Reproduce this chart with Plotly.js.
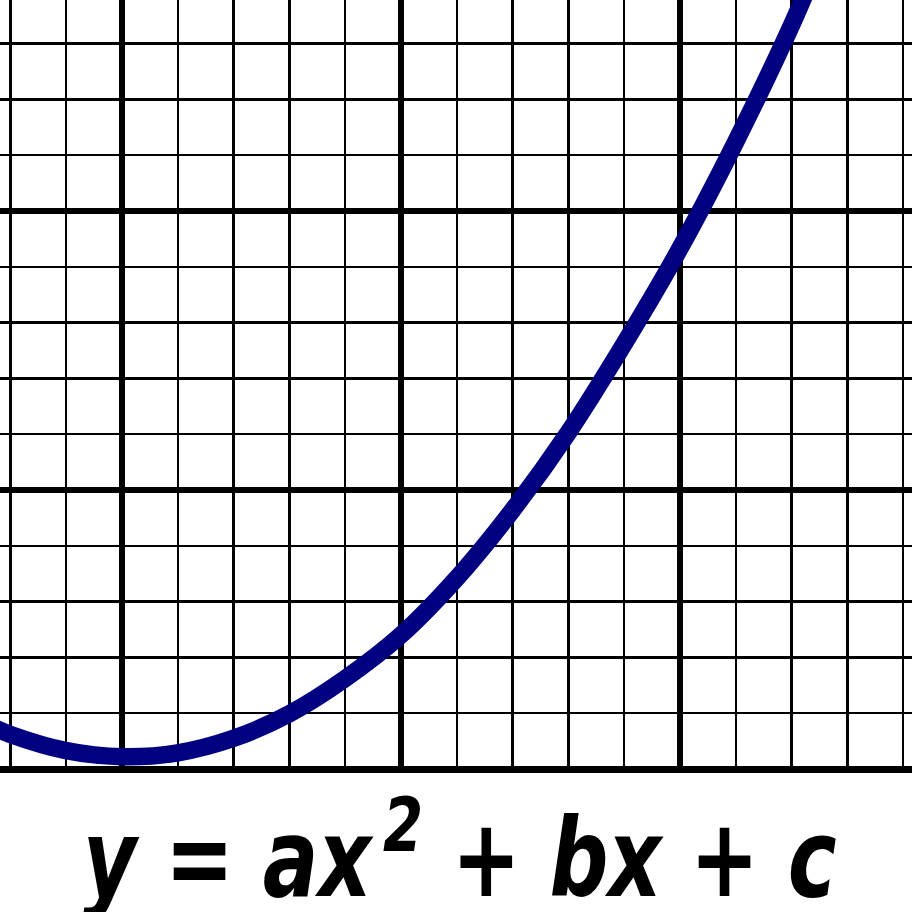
<!DOCTYPE html>
<html>
<head>
<meta charset="utf-8">
<script src="https://cdn.plot.ly/plotly-3.0.1.min.js"></script>
<style>
  html, body { margin: 0; padding: 0; background: #ffffff; }
  #chart { width: 912px; height: 912px; }
</style>
</head>
<body>
<div id="chart"></div>
<script>
// Curve samples, in grid units (1 unit = one small square)
const curveX = [-7.4, -7, -6, -5, -4, -3, -2, -1, 0, 1, 2, 3, 4, 5, 6, 7, 7.5];
const curveY = [0.79, 0.62, 0.33, 0.22, 0.29, 0.55, 0.99, 1.62, 2.40, 3.42, 4.64, 6.03, 7.62, 9.33, 11.24, 13.33, 14.5];

// Visible window of the grid paper, in grid units
const xRange = [-7.186, 9.158];
const yRange = [0, 13.78];

// Caption
const equationText = 'y = ax<sup>\u20092</sup> + bx + c';

const trace = {
  type: 'scatter',
  mode: 'lines',
  x: curveX,
  y: curveY,
  line: { color: '#000080', width: 17.5, shape: 'spline', smoothing: 1 },
  hoverinfo: 'skip'
};

const axisCommon = {
  showticklabels: false,
  ticks: '',
  showline: false,
  tick0: 0,
  dtick: 5,
  showgrid: true,
  gridcolor: '#000000',
  gridwidth: 6,
  zeroline: true,
  zerolinecolor: '#000000',
  zerolinewidth: 6,
  minor: { dtick: 1, showgrid: true, gridcolor: '#000000', gridwidth: 2.5 },
  fixedrange: true
};

const layout = {
  width: 912,
  height: 912,
  margin: { l: 0, r: 0, t: 0, b: 143, pad: 0 },
  paper_bgcolor: '#ffffff',
  plot_bgcolor: '#ffffff',
  showlegend: false,
  xaxis: Object.assign({}, axisCommon, { range: xRange }),
  yaxis: Object.assign({}, axisCommon, { range: yRange, zerolinewidth: 7 }),
  annotations: [{
    xref: 'paper', yref: 'paper',
    x: 0.504, y: -0.107,
    xanchor: 'center', yanchor: 'middle',
    showarrow: false,
    text: equationText,
    font: { family: 'DejaVu Sans Condensed, DejaVu Sans, sans-serif', size: 108, color: '#000000', weight: 'bold', style: 'italic' }
  }]
};

Plotly.newPlot('chart', [trace], layout, { staticPlot: true, displayModeBar: false }).then(function () {
  // Narrow the caption horizontally so it spans the same width as the reference lettering
  const txt = document.querySelector('.annotation-text');
  if (!txt) return;
  const bb = txt.getBBox();
  const targetWidth = 754;
  if (bb.width > targetWidth) {
    const k = targetWidth / bb.width;
    const cx = bb.x + bb.width / 2;
    const prev = txt.getAttribute('transform') || '';
    txt.setAttribute('transform', prev + ' translate(' + cx + ' 0) scale(' + k + ' 1) translate(' + (-cx) + ' 0)');
  }
});
</script>
</body>
</html>
